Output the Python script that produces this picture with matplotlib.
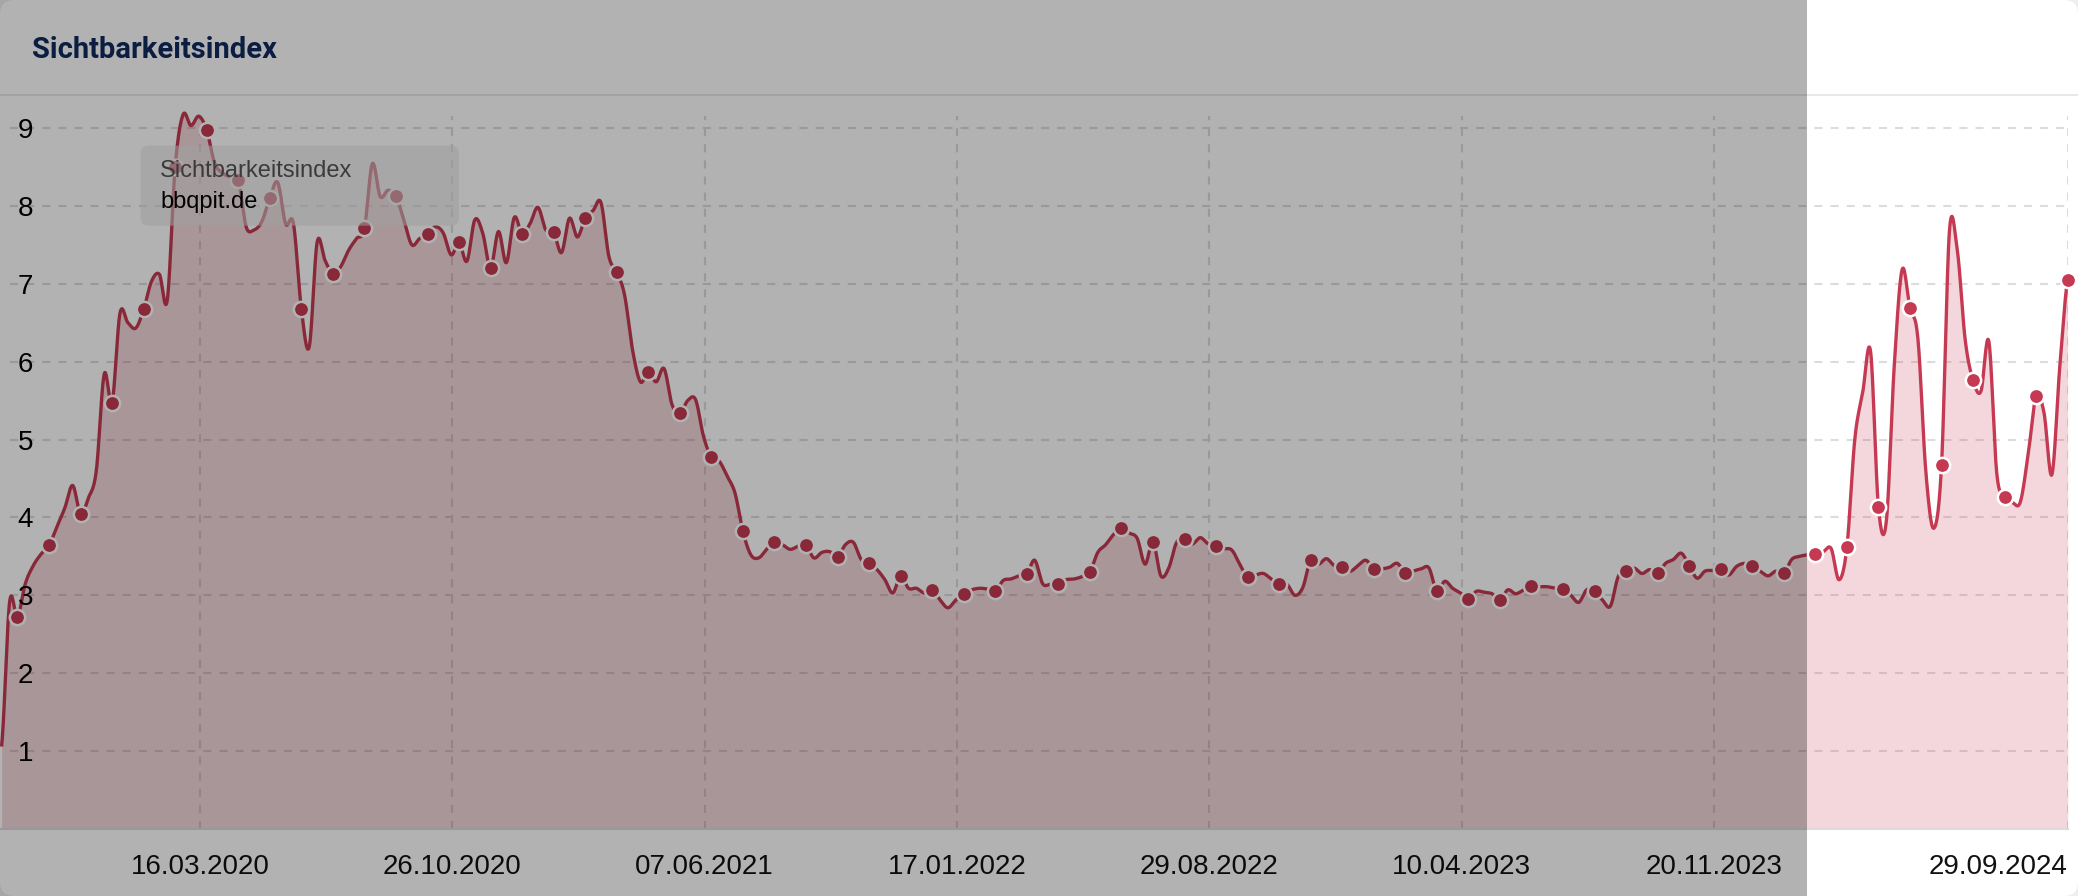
import numpy as np
import pandas as pd
import matplotlib
matplotlib.use("Agg")
import matplotlib.pyplot as plt
import matplotlib.dates as mdates
import matplotlib.transforms as mtransforms
from matplotlib.patches import FancyBboxPatch, Rectangle
from matplotlib.lines import Line2D

# ---------------- data ----------------
title = "Sichtbarkeitsindex"
tooltip_title = "Sichtbarkeitsindex"
tooltip_domain = "bbqpit.de"

first_week = "2019-09-22"          # weekly values (Sundays)
values_2019 = [1.08, 2.91, 2.72, 3.15, 3.38, 3.53, 3.64, 3.88, 4.12, 4.41, 4.05, 4.25, 4.60, 5.84, 5.47]
values_2020 = [6.62, 6.50, 6.43, 6.67, 7.03, 7.12, 6.79, 8.50, 9.17, 9.03, 9.15, 8.97, 8.55, 8.42, 8.37,
               8.33, 7.73, 7.69, 7.80, 8.10, 8.30, 7.77, 7.77, 6.68, 6.19, 7.53, 7.30, 7.12, 7.22, 7.43,
               7.58, 7.71, 8.54, 8.12, 8.20, 8.12, 7.82, 7.50, 7.58, 7.64, 7.73, 7.65, 7.37, 7.53, 7.29,
               7.82, 7.65, 7.20, 7.67, 7.27, 7.85, 7.64]
values_2021 = [7.77, 7.98, 7.69, 7.66, 7.40, 7.84, 7.60, 7.84, 7.94, 8.04, 7.35, 7.15, 6.85, 6.15, 5.74,
               5.87, 5.74, 5.91, 5.45, 5.34, 5.50, 5.51, 5.04, 4.77, 4.72, 4.53, 4.31, 3.82, 3.52, 3.48,
               3.59, 3.69, 3.65, 3.59, 3.63, 3.64, 3.48, 3.55, 3.56, 3.49, 3.65, 3.68, 3.46, 3.41, 3.33,
               3.20, 3.03, 3.25, 3.09, 3.09, 3.03, 3.07]
values_2022 = [2.94, 2.84, 2.94, 3.02, 3.07, 3.09, 3.08, 3.05, 3.19, 3.21, 3.25, 3.27, 3.45, 3.15, 3.14,
               3.14, 3.20, 3.21, 3.24, 3.30, 3.55, 3.65, 3.78, 3.87, 3.80, 3.73, 3.40, 3.69, 3.25, 3.35,
               3.68, 3.72, 3.66, 3.74, 3.66, 3.63, 3.60, 3.58, 3.40, 3.23, 3.26, 3.28, 3.21, 3.14, 3.14,
               3.00, 3.10, 3.45, 3.40, 3.47, 3.38, 3.36]
values_2023 = [3.31, 3.38, 3.45, 3.34, 3.34, 3.36, 3.41, 3.28, 3.31, 3.34, 3.35, 3.05, 3.18, 3.09, 3.03,
               2.95, 3.05, 3.04, 3.02, 2.94, 3.07, 3.02, 3.07, 3.12, 3.11, 3.11, 3.09, 3.08, 3.00, 2.91,
               3.07, 3.05, 2.94, 2.86, 3.24, 3.31, 3.35, 3.28, 3.33, 3.28, 3.41, 3.46, 3.54, 3.38, 3.22,
               3.31, 3.32, 3.34, 3.26, 3.37, 3.41, 3.38, 3.31]
values_2024 = [3.25, 3.31, 3.28, 3.46, 3.50, 3.52, 3.53, 3.56, 3.60, 3.20, 3.62, 5.00, 5.60, 6.13, 4.13,
               3.95, 5.94, 7.18, 6.69, 6.30, 4.60, 3.86, 4.67, 7.67, 7.43, 6.28, 5.76, 5.62, 6.26, 4.57,
               4.26, 4.19, 4.20, 4.82, 5.56, 5.34, 4.55, 5.94, 7.05]

tick_dates = ["2020-03-16", "2020-10-26", "2021-06-07", "2022-01-17",
              "2022-08-29", "2023-04-10", "2023-11-20", "2024-09-29"]
tick_labels = ["16.03.2020", "26.10.2020", "07.06.2021", "17.01.2022",
               "29.08.2022", "10.04.2023", "20.11.2023", "29.09.2024"]
y_ticks = [1, 2, 3, 4, 5, 6, 7, 8, 9]
x_range = ("2019-09-20 12:00", "2024-09-29")
marker_start, marker_step = 2, 4

# ---------------- style ----------------
RED = "#c53a52"
GRID = "#dcdcdc"
plt.rcParams["lines.scale_dashes"] = False
LABEL_FONT = ["Liberation Sans", "DejaVu Sans"]

W, H, DPI = 2078, 896, 100
ID = mtransforms.IdentityTransform()

values = np.array(values_2019 + values_2020 + values_2021 + values_2022 + values_2023 + values_2024)
dates = pd.date_range(first_week, periods=len(values), freq="7D")
xnum = mdates.date2num(dates.to_pydatetime())


def catmull_rom(x, y, n=16):
    x = np.asarray(x, float)
    y = np.asarray(y, float)
    px = np.concatenate([[2 * x[0] - x[1]], x, [2 * x[-1] - x[-2]]])
    py = np.concatenate([[y[0]], y, [y[-1]]])
    t = np.linspace(0, 1, n, endpoint=False)[:, None]

    def seg(p):
        p0, p1, p2, p3 = p[:-3], p[1:-2], p[2:-1], p[3:]
        return 0.5 * (2 * p1 + (-p0 + p2) * t + (2 * p0 - 5 * p1 + 4 * p2 - p3) * t ** 2
                      + (-p0 + 3 * p1 - 3 * p2 + p3) * t ** 3)

    sx = np.append(seg(px).T.ravel(), x[-1])
    sy = np.append(seg(py).T.ravel(), y[-1])
    return sx, sy


fig = plt.figure(figsize=(W / DPI, H / DPI), dpi=DPI)
fig.patch.set_facecolor("#eeeeee")

card = FancyBboxPatch((0, 0), W, H, boxstyle="round,pad=0,rounding_size=14",
                      transform=ID, facecolor="white", edgecolor="none", zorder=-10)
fig.add_artist(card)
fig.add_artist(Line2D([0, W], [H - 95, H - 95], transform=ID, color="#e8e8e8", lw=1.4, zorder=-9))

fig.text(32 / W, 1 - 58 / H, title, family=["Roboto", "DejaVu Sans"], fontweight="bold",
         fontsize=21, color="#112b5e", va="baseline", ha="left")

ax_top_px, ax_bot_px, ax_right_px = 110, 829, 2067.7
ax = fig.add_axes([0, 1 - ax_bot_px / H, ax_right_px / W, (ax_bot_px - ax_top_px) / H])
ax.patch.set_visible(False)
px_per_unit = 77.9
ymax = (ax_bot_px - ax_top_px) / px_per_unit
ax.set_ylim(0, ymax)
ax.set_xlim(mdates.datestr2num(x_range[0]), mdates.datestr2num(x_range[1]))
for s in ["top", "left", "right"]:
    ax.spines[s].set_visible(False)
ax.spines["bottom"].set_color("#dcdcdc")
ax.spines["bottom"].set_linewidth(1.5)
ax.set_xticks([])
ax.set_yticks([])

dash = (0, (5.8, 5.8))
grid_top = (ax_bot_px - 116) / px_per_unit
for v in y_ticks:
    ax.axhline(v, xmin=10 / ax_right_px, xmax=1, color=GRID, lw=1.5, ls=dash, zorder=0.5)
for d in tick_dates:
    ax.axvline(mdates.datestr2num(d), ymin=0, ymax=grid_top / ymax, color=GRID, lw=1.5,
               ls=dash, zorder=0.5)

sx, sy = catmull_rom(xnum, values, 16)
ax.fill_between(sx, sy, 0, color=RED, alpha=0.2, lw=0, zorder=1)
ax.plot(sx, sy, color=RED, lw=2.4, zorder=3, clip_on=False, solid_joinstyle="round")
ax.plot(xnum[marker_start::marker_step], values[marker_start::marker_step], "o", ms=11,
        mfc=RED, mec="white", mew=1.8, zorder=4, clip_on=False)

# y tick labels
ytrans = mtransforms.blended_transform_factory(ax.transAxes, ax.transData) + \
    mtransforms.ScaledTranslation(0, -0.10, fig.dpi_scale_trans)
for v in y_ticks:
    ax.text(33 / ax_right_px, v, str(v), transform=ytrans, ha="right", va="baseline",
            fontsize=20, family=LABEL_FONT, color="#000000")

# x tick labels
xtrans = ax.get_xaxis_transform() + mtransforms.ScaledTranslation(0, -0.45, fig.dpi_scale_trans)
for i, (d, lab) in enumerate(zip(tick_dates, tick_labels)):
    ha = "right" if i == len(tick_dates) - 1 else "center"
    ax.text(mdates.datestr2num(d), 0, lab, transform=xtrans, ha=ha, va="baseline",
            fontsize=20, family=LABEL_FONT, color="#111111")

# tooltip (under the modal overlay)
tip = FancyBboxPatch((140.6, H - 225.7), 318.4, 80, boxstyle="round,pad=0,rounding_size=8",
                     transform=ID, facecolor="#e4e4e4", alpha=0.55, edgecolor="none", zorder=5)
fig.add_artist(tip)
fig.text(160 / W, 1 - 177 / H, tooltip_title, fontsize=17, family=LABEL_FONT,
         color="#555555", va="baseline", zorder=6)
fig.text(160 / W, 1 - 208 / H, tooltip_domain, fontsize=17, family=LABEL_FONT,
         color="#000000", va="baseline", zorder=6)

# modal overlay
fig.add_artist(Rectangle((0, 0), 1806.5, H, transform=ID, facecolor="black", alpha=0.3,
                         edgecolor="none", zorder=10))

fig.savefig("out.png", dpi=DPI, facecolor=fig.get_facecolor())
